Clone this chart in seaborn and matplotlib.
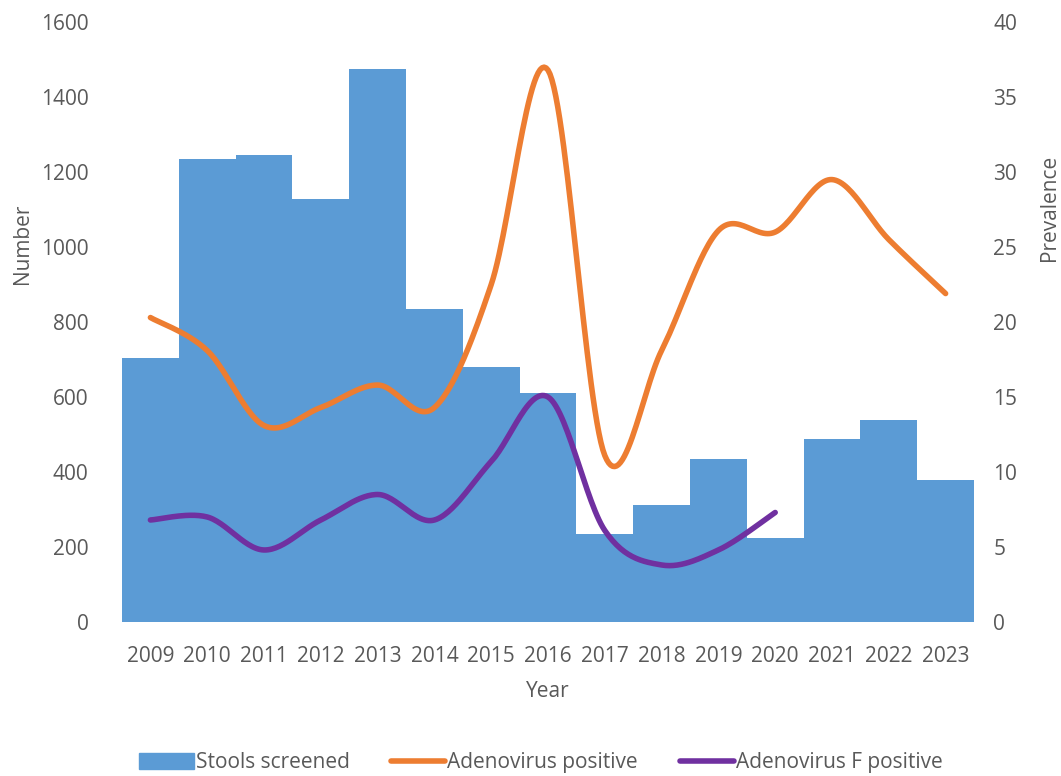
import numpy as np
import pandas as pd
import matplotlib
matplotlib.use("Agg")
import matplotlib.pyplot as plt
import seaborn as sns
from matplotlib.patches import Patch
from matplotlib.lines import Line2D

years = ["2009", "2010", "2011", "2012", "2013", "2014", "2015", "2016",
         "2017", "2018", "2019", "2020", "2021", "2022", "2023"]
stools = [705, 1235, 1245, 1128, 1475, 835, 680, 612, 235, 312, 435, 225, 487, 540, 380]
adeno = [20.3, 18.1, 13.1, 14.3, 15.8, 14.3, 22.5, 36.8, 11.1, 18.1, 26.1, 26.0, 29.5, 25.5, 21.9]
adeno_f = [6.8, 7.0, 4.8, 6.8, 8.5, 6.8, 10.7, 15.0, 6.1, 3.8, 4.8, 7.3]

blue = "#5B9BD5"
orange = "#ED7D31"
purple = "#7030A0"
grey = "#595959"


def smooth(y, n=30):
    # bezier curve through the points, like a spreadsheet "smoothed line"
    x = np.arange(len(y), dtype=float)
    y = np.asarray(y, dtype=float)
    pts = np.column_stack([x, y])
    out = []
    t = np.linspace(0, 1, n)[:, None]
    for i in range(len(pts) - 1):
        p0 = pts[max(i - 1, 0)]
        p1 = pts[i]
        p2 = pts[i + 1]
        p3 = pts[min(i + 2, len(pts) - 1)]
        c1 = p1 + (p2 - p0) / 6
        c2 = p2 - (p3 - p1) / 6
        seg = ((1 - t) ** 3) * p1 + 3 * ((1 - t) ** 2) * t * c1 + 3 * (1 - t) * t ** 2 * c2 + t ** 3 * p2
        out.append(seg if i == 0 else seg[1:])
    out = np.vstack(out)
    return pd.DataFrame({"x": out[:, 0], "y": out[:, 1]})


plt.rcParams["font.family"] = ["Open Sans", "DejaVu Sans"]

fig = plt.figure(figsize=(10.61, 7.76), dpi=100)
ax = fig.add_axes([0.115, 0.1985, 0.803, 0.773])

df = pd.DataFrame({"year": years, "stools": stools})
sns.barplot(data=df, x="year", y="stools", color=blue, width=1.0, saturation=1,
            edgecolor=blue, linewidth=0, ax=ax)
ax.set_ylim(0, 1600)
ax.set_yticks(range(0, 1601, 200))
ax.set_xlim(-0.5, 14.5)

ax2 = ax.twinx()
sns.lineplot(data=smooth(adeno), x="x", y="y", sort=False, color=orange, lw=4,
             solid_capstyle="round", ax=ax2)
sns.lineplot(data=smooth(adeno_f), x="x", y="y", sort=False, color=purple, lw=4,
             solid_capstyle="round", ax=ax2)
ax2.set_ylim(0, 40)
ax2.set_yticks(range(0, 41, 5))
ax2.set_xlim(-0.5, 14.5)

for a in (ax, ax2):
    for s in a.spines.values():
        s.set_visible(False)
    a.tick_params(length=0, labelsize=15, colors=grey)

ax.tick_params(axis="x", pad=17)
ax.tick_params(axis="y", pad=24)
ax2.tick_params(axis="y", pad=14)
ax.set_xlabel("Year", fontsize=15, color=grey)
ax.xaxis.set_label_coords(0.5, -0.098)
ax.set_ylabel("Number", fontsize=15, color=grey)
ax.yaxis.set_label_coords(-0.105, 0.63)
ax2.set_ylabel("Prevalence", fontsize=15, color=grey)
ax2.yaxis.set_label_coords(1.076, 0.69)

handles = [Patch(facecolor=blue, edgecolor=blue),
           Line2D([], [], color=orange, lw=4, solid_capstyle="round"),
           Line2D([], [], color=purple, lw=4, solid_capstyle="round")]
labels = ["Stools screened", "Adenovirus positive", "Adenovirus F positive"]
fig.legend(handles, labels, loc="center", bbox_to_anchor=(0.51, 0.017), ncol=3,
           frameon=False, fontsize=15, labelcolor=grey, handlelength=2.6,
           handleheight=0.8, handletextpad=0.1, columnspacing=2.0)

fig.savefig("out.png", dpi=100)
